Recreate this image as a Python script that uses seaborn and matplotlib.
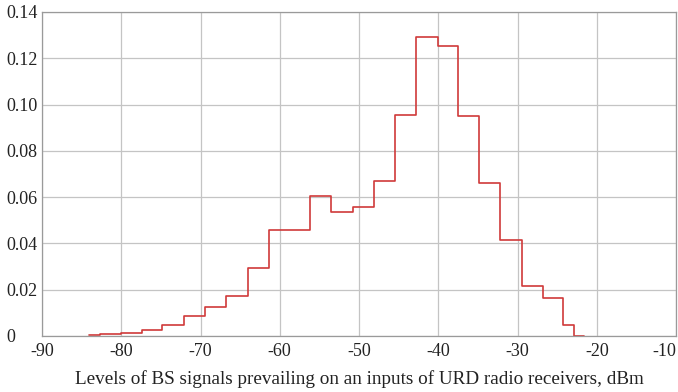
import numpy as np
import pandas as pd
import matplotlib
matplotlib.use("Agg")
import matplotlib.pyplot as plt
import seaborn as sns

# Data
bin_edges = [-84.05, -82.62, -79.97, -77.32, -74.80, -72.12, -69.39, -66.74,
             -64.06, -61.41, -58.76, -56.12, -53.51, -50.79, -48.05, -45.49,
             -42.80, -40.08, -37.47, -34.82, -32.21, -29.49, -26.84, -24.20,
             -22.85, -21.6]
frequencies = [0.0003, 0.0008, 0.0015, 0.0025, 0.0048, 0.0086, 0.0124, 0.0173,
               0.0293, 0.0460, 0.0460, 0.0605, 0.0537, 0.0556, 0.0670, 0.0955,
               0.1290, 0.1253, 0.0952, 0.0660, 0.0415, 0.0217, 0.0163, 0.0047,
               0.0]
x_ticks = [-90, -80, -70, -60, -50, -40, -30, -20, -10]
y_ticks = [0, 0.02, 0.04, 0.06, 0.08, 0.10, 0.12, 0.14]
y_tick_labels = ["0", "0.02", "0.04", "0.06", "0.08", "0.10", "0.12", "0.14"]
x_label = "Levels of BS signals prevailing on an inputs of URD radio receivers, dBm"

edges = np.array(bin_edges)
centers = (edges[:-1] + edges[1:]) / 2
df = pd.DataFrame({"level": centers, "freq": frequencies})

sns.set_style("white")
plt.rcParams["font.family"] = ["Liberation Serif", "DejaVu Serif"]

fig = plt.figure(figsize=(6.78, 3.92), dpi=100)
ax = fig.add_axes([42 / 678, 56 / 392, 634 / 678, 324 / 392])

sns.histplot(data=df, x="level", weights="freq", bins=list(bin_edges),
             element="step", fill=False, color="#d03a3a", linewidth=1.2, ax=ax)

ax.set_xlim(-90, -10)
ax.set_ylim(0, 0.14)
ax.set_xticks(x_ticks)
ax.set_xticklabels([str(t) for t in x_ticks])
ax.set_yticks(y_ticks)
ax.set_yticklabels(y_tick_labels)
ax.grid(True, color="#c4c4c4", linewidth=0.9)
ax.set_axisbelow(True)
for s in ax.spines.values():
    s.set_color("#9a9a9a")
    s.set_linewidth(0.9)
ax.tick_params(axis="both", length=0, labelsize=13, colors="#222222")
ax.tick_params(axis="x", pad=5)
ax.tick_params(axis="y", pad=26)
for lbl in ax.get_yticklabels():
    lbl.set_horizontalalignment("left")
ax.get_xticklabels()[-1].set_horizontalalignment("right")
ax.set_ylabel("")
ax.set_xlabel(x_label, fontsize=13.8, color="#222222", labelpad=7)

fig.savefig("out.png", dpi=100)
